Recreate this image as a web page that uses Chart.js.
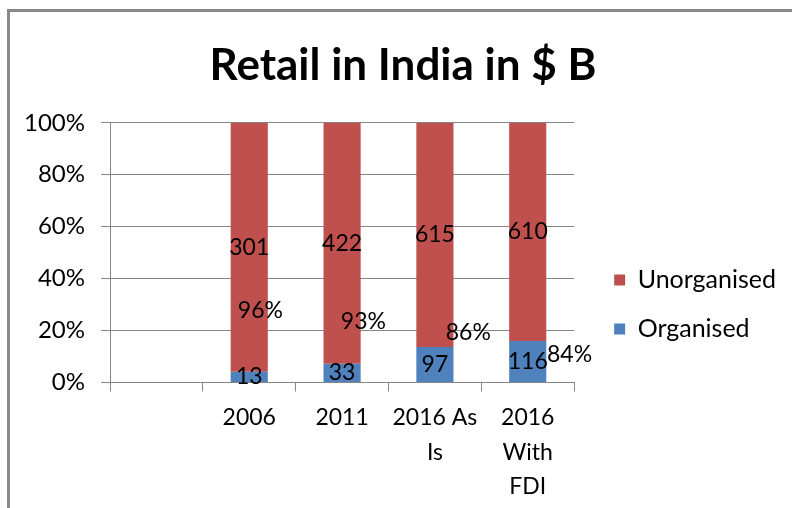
<!DOCTYPE html>
<html>
<head>
<meta charset="utf-8">
<title>Retail in India in $ B</title>
<script src="https://cdn.jsdelivr.net/npm/chart.js@4.4.0/dist/chart.umd.min.js"></script>
<style>
  html, body { margin: 0; padding: 0; background: #fff; }
  #wrap { position: relative; width: 792px; height: 508px; overflow: hidden; }
  #frame { position: absolute; left: 7px; top: 9px; width: 900px; height: 600px;
           border-top: 3px solid #888; border-left: 3px solid #888; pointer-events: none; }
  canvas { position: absolute; left: 0; top: 0; }
</style>
</head>
<body>
<div id="wrap">
  <canvas id="retail" width="792" height="508"></canvas>
  <div id="frame"></div>
</div>
<script>
const categories = ['', '2006', '2011', ['2016 As', 'Is'], ['2016', 'With', 'FDI']]
const organised = [null, 13, 33, 97, 116]
const unorganised = [null, 301, 422, 615, 610]
// where the unorganised share labels sit: value-axis % and shift in category widths
const shareLabelY = [null, 27.7, 23.5, 19.2, 10.8]
const shareLabelShift = [0, 0.12, 0.23, 0.36, 0.45]

const gridColor = '#868686'
const fontFamily = 'Lato'

const toShare = (part, i) => part == null ? null : part / (organised[i] + unorganised[i]) * 100

const barLabels = {
    id: 'barLabels',
    afterDatasetsDraw(chart) {
        const ctx = chart.ctx
        const x = chart.scales.x
        const y = chart.scales.y
        ctx.save()
        ctx.font = `23px ${fontFamily}`
        ctx.fillStyle = '#000'
        ctx.textAlign = 'center'
        ctx.textBaseline = 'middle'
        chart.data.datasets.forEach((ds, d) => {
            chart.getDatasetMeta(d).data.forEach((bar, i) => {
                if (ds.raw[i] == null) return
                ctx.fillText(ds.raw[i], bar.x, (bar.y + bar.base) / 2)
            })
        })
        unorganised.forEach((v, i) => {
            if (v == null) return
            const label = Math.round(toShare(v, i)) + '%'
            ctx.fillText(label, x.getPixelForValue(i + shareLabelShift[i]), y.getPixelForValue(shareLabelY[i]))
        })
        ctx.restore()
    }
}

const data = {
    labels: categories,
    datasets: [
        {
            label: 'Organised',
            raw: organised,
            data: organised.map(toShare),
            backgroundColor: '#4F81BD',
        },
        {
            label: 'Unorganised',
            raw: unorganised,
            data: unorganised.map(toShare),
            backgroundColor: '#C0504D',
        }
    ]
}

const options = {
    responsive: false,
    animation: false,
    barPercentage: 0.4,
    categoryPercentage: 1,
    layout: {
        padding: { top: 12, left: 20, right: 6, bottom: -5 }
    },
    plugins: {
        title: {
            display: true,
            text: 'Retail in India in $ B',
            color: '#000',
            font: { family: fontFamily, size: 44, weight: 'bold', lineHeight: 1.2 },
            padding: { top: 27, bottom: 31 }
        },
        legend: {
            position: 'right',
            align: 'start',
            reverse: true,
            maxWidth: 260,
            // blank title only pushes the items down
            title: {
                display: true,
                text: ' ',
                font: { size: 10, lineHeight: 23.15 },
                padding: 0
            },
            labels: {
                boxWidth: 11,
                boxHeight: 11,
                padding: 24,
                color: '#000',
                font: { family: fontFamily, size: 25 }
            }
        },
        tooltip: { enabled: false }
    },
    scales: {
        x: {
            stacked: true,
            grid: { offset: true, drawOnChartArea: false, tickLength: 9, color: gridColor },
            border: { color: gridColor },
            ticks: {
                padding: 9,
                maxRotation: 0,
                autoSkip: false,
                color: '#000',
                font: { family: fontFamily, size: 23, lineHeight: 1.5 }
            }
        },
        y: {
            stacked: true,
            min: 0,
            max: 100,
            grid: { color: gridColor, tickLength: 9 },
            border: { color: gridColor },
            ticks: {
                stepSize: 20,
                padding: 16,
                color: '#000',
                font: { family: fontFamily, size: 24 },
                callback: (value) => `${value}%`
            },
            afterFit: (scale) => { scale.width = 90 }
        },
        // empty axis that only keeps a gap between the plot and the legend
        gap: {
            axis: 'y',
            position: 'right',
            display: true,
            grid: { display: false },
            border: { display: false },
            ticks: { display: false },
            afterFit: (scale) => { scale.width = 16 }
        }
    }
}

const retailChart = new Chart(document.getElementById('retail'), {
    type: 'bar',
    data: data,
    options: options,
    plugins: [barLabels]
})
</script>
</body>
</html>
